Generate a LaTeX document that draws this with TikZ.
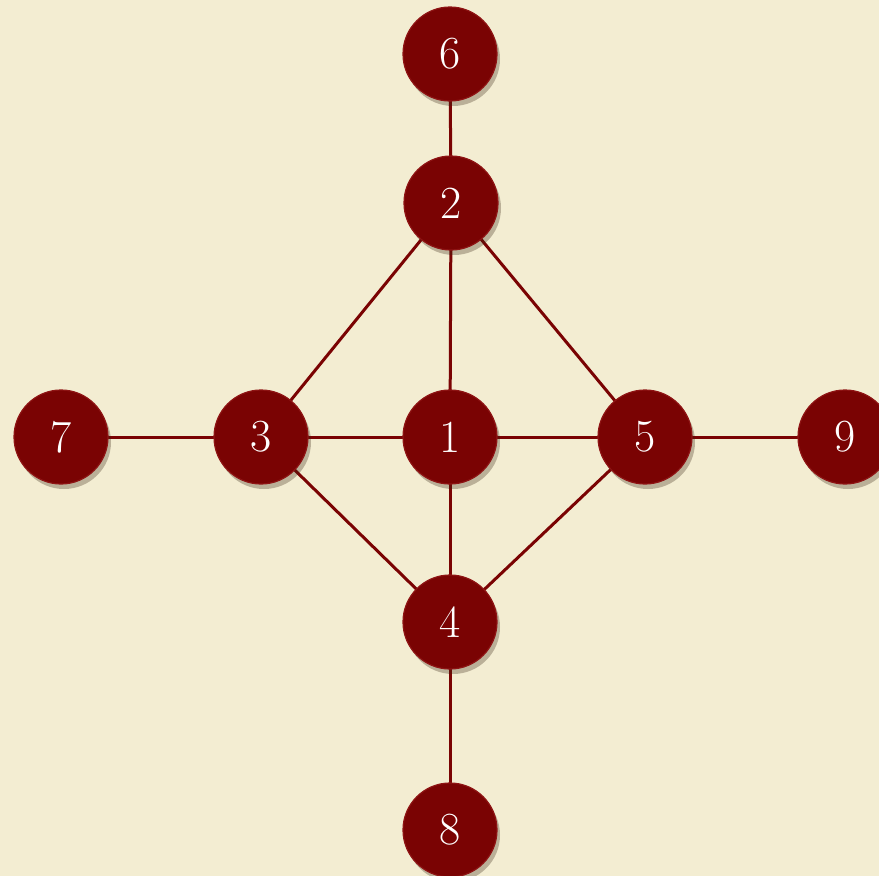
\documentclass[tikz,border=0pt]{standalone}
\usepackage{tikz}
\usetikzlibrary{shadows}

\definecolor{parchment}{HTML}{F3EDD2}
\definecolor{wine}{HTML}{7A0303}
\definecolor{wineedge}{HTML}{8E1414}

\begin{document}
\begin{tikzpicture}[
  x=1pt, y=-1pt,
  edge/.style={draw=wine, line width=3pt},
  vert/.style={circle, fill=wine, draw=wineedge, line width=1.2pt,
    minimum size=94pt, inner sep=0pt, text=white,
    font=\fontsize{46}{46}\selectfont,
    drop shadow={fill=black!70!brown, opacity=0.3, shadow xshift=3pt,
      shadow yshift=-5pt}}
]
  \fill[parchment] (0,0) rectangle (879,876);
  \useasboundingbox (0,0) rectangle (879,876);
  \foreach \n/\x/\y in {6/450/54, 2/451/203, 7/61/437, 3/261/437,
    1/450/437, 5/645/437, 9/845/437, 4/450/622, 8/450/830} {
    \coordinate (c\n) at (\x,\y);
  }
  % edges first, nodes on top
  \foreach \a/\b in {6/2, 2/1, 2/3, 2/5, 7/3, 3/1, 1/5, 5/9,
    3/4, 1/4, 5/4, 4/8} {
    \draw[edge] (c\a) -- (c\b);
  }
  \foreach \n in {1,...,9} {
    \node[vert] (n\n) at (c\n) {\n};
  }
\end{tikzpicture}
\end{document}
